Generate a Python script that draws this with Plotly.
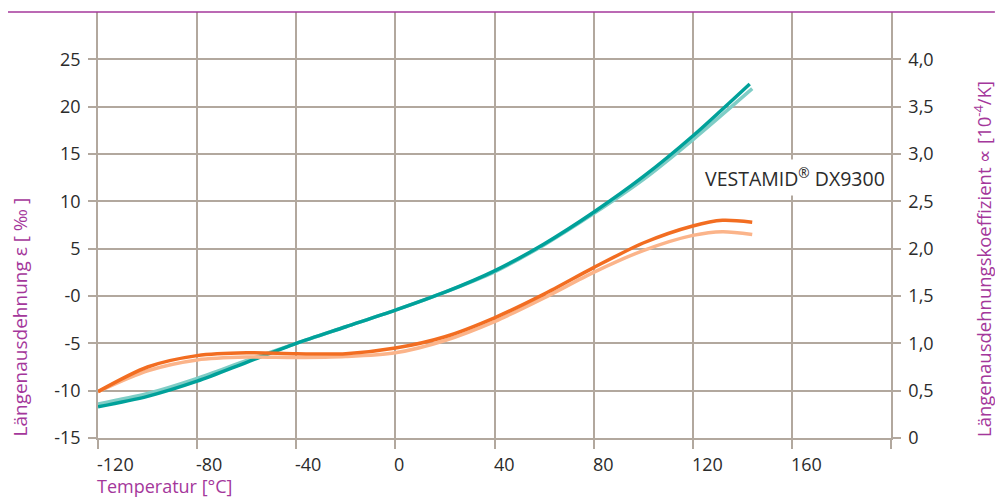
import plotly.graph_objects as go

# ---- data ----
temp_teal_dark = [-120, -100, -80, -60, -40, -20, 0, 20, 40, 60, 80, 100, 120, 143]
strain_teal_dark = [-11.7, -10.6, -9.0, -7.0, -5.0, -3.25, -1.5, 0.4, 2.65, 5.5, 8.85, 12.6, 16.9, 22.4]

temp_teal_light = [-120, -100, -80, -60, -40, -20, 0, 20, 40, 60, 80, 100, 120, 144]
strain_teal_light = [-11.4, -10.3, -8.7, -6.8, -5.0, -3.25, -1.5, 0.4, 2.55, 5.4, 8.7, 12.3, 16.5, 21.9]

temp_orange = [-120, -100, -80, -60, -40, -20, 0, 20, 40, 60, 80, 100, 120, 132, 144]
alpha_orange_dark = [0.49, 0.75, 0.87, 0.90, 0.89, 0.89, 0.95, 1.07, 1.27, 1.52, 1.80, 2.06, 2.24, 2.30, 2.28]
alpha_orange_light = [0.49, 0.71, 0.825, 0.855, 0.85, 0.86, 0.90, 1.03, 1.23, 1.48, 1.75, 1.98, 2.14, 2.18, 2.15]

x_ticks = [-120, -80, -40, 0, 40, 80, 120, 160, 200]
x_tick_labels = ["-120", "-80", "-40", "0", "40", "80", "120", "160", ""]
y_ticks = [-15, -10, -5, 0, 5, 10, 15, 20, 25]
y_tick_labels = ["-15", "-10", "-5", "-0", "5", "10", "15", "20", "25"]
y2_ticks = [0, 0.5, 1.0, 1.5, 2.0, 2.5, 3.0, 3.5, 4.0]
y2_tick_labels = ["0", "0,5", "1,0", "1,5", "2,0", "2,5", "3,0", "3,5", "4,0"]

label_text = "VESTAMID<sup>®</sup> DX9300"
label_pos = (123.5, 12.5)

# ---- styles ----
GRID = "#b2a89e"
MAGENTA = "#a4379b"
TEXT = "#2b2b2b"
FONT = "Open Sans"
TICK_SIZE = 18

fig = go.Figure()
fig.add_trace(go.Scatter(x=temp_teal_light, y=strain_teal_light, mode="lines",
                         line=dict(color="#7fcdc6", width=3.5, shape="spline", smoothing=0.8), yaxis="y"))
fig.add_trace(go.Scatter(x=temp_teal_dark, y=strain_teal_dark, mode="lines",
                         line=dict(color="#00a19a", width=3.5, shape="spline", smoothing=0.8), yaxis="y"))
fig.add_trace(go.Scatter(x=temp_orange, y=alpha_orange_light, mode="lines",
                         line=dict(color="#fbb48a", width=3.5, shape="spline", smoothing=0.8), yaxis="y2"))
fig.add_trace(go.Scatter(x=temp_orange, y=alpha_orange_dark, mode="lines",
                         line=dict(color="#f26d21", width=3.5, shape="spline", smoothing=0.8), yaxis="y2"))

axis_common = dict(ticks="outside", tickcolor=GRID, tickwidth=1.5, ticklen=8,
                   linecolor=GRID, linewidth=1.5, showline=True, zeroline=False,
                   tickfont=dict(family=FONT, size=TICK_SIZE, color=TEXT))

fig.update_layout(
    width=995, height=497,
    margin=dict(l=98, r=104, t=12, b=59),
    paper_bgcolor="white", plot_bgcolor="white",
    showlegend=False,
    font=dict(family=FONT, color=TEXT),
    xaxis=dict(range=[-120, 200], tickvals=x_ticks, ticktext=x_tick_labels,
               showticklabels=False, showgrid=True, gridcolor=GRID, gridwidth=1.5,
               **{**axis_common, "ticklen": 9}),
    yaxis=dict(range=[-15, 30], tickvals=y_ticks, ticktext=y_tick_labels,
               showgrid=True, gridcolor=GRID, gridwidth=1.5, ticklabelstandoff=4,
               **axis_common),
    yaxis2=dict(range=[0, 4.5], tickvals=y2_ticks, ticktext=y2_tick_labels,
                overlaying="y", side="right", showgrid=False, ticklabelstandoff=4,
                **axis_common),
)

# magenta rule along the top
fig.add_shape(type="line", xref="paper", yref="paper", x0=-0.1135, x1=1.131, y0=1, y1=1,
              line=dict(color=MAGENTA, width=1.5))

# x tick labels, left-aligned to their ticks
for v, t in zip(x_ticks, x_tick_labels):
    if t:
        fig.add_annotation(x=v, xref="x", y=0, yref="paper", text=t, showarrow=False,
                           xanchor="left", yanchor="middle", yshift=-26, xshift=-2,
                           borderpad=0, font=dict(family=FONT, size=TICK_SIZE, color=TEXT))

# axis titles
fig.add_annotation(x=0, xref="paper", y=0, yref="paper", text="Temperatur [°C]",
                   showarrow=False, xanchor="left", yanchor="middle", yshift=-48, xshift=-2,
                   borderpad=0, font=dict(family=FONT, size=18, color=MAGENTA))
fig.add_annotation(x=0, xref="paper", y=0, yref="paper",
                   text="Längenausdehnung ε [\u00a0‰\u00a0]", textangle=-90, showarrow=False,
                   xanchor="center", yanchor="bottom", xshift=-79, borderpad=0,
                   font=dict(family=FONT, size=19, color=MAGENTA))
fig.add_annotation(x=1.0, xref="paper", y=0, yref="paper",
                   text="Längenausdehnungskoeffizient ∝ [10<sup>-4</sup>/K]", textangle=-90,
                   showarrow=False, xanchor="center", yanchor="bottom", xshift=91, borderpad=0,
                   font=dict(family=FONT, size=18.5, color=MAGENTA))

# product label
fig.add_annotation(x=label_pos[0], y=label_pos[1], xref="x", yref="y", text=label_text,
                   showarrow=False, xanchor="left", yanchor="middle", bgcolor="white",
                   borderpad=3, font=dict(family=FONT, size=19.5, color=TEXT))

fig.write_html("out.html", config={"displayModeBar": False},
               post_script="document.body.style.margin='0';")
